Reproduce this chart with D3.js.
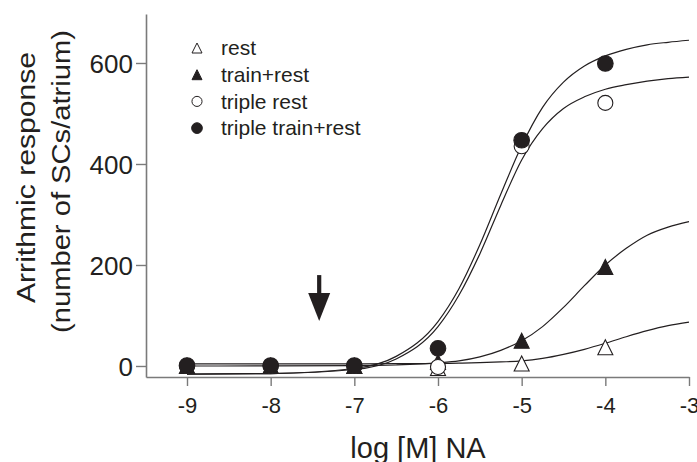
<!DOCTYPE html>
<html>
<head>
<meta charset="utf-8">
<script src="https://cdn.jsdelivr.net/npm/d3@7"></script>
<style>
  body { margin: 0; background: #fff; }
  svg { font-family: "Liberation Sans", Arial, sans-serif; }
</style>
</head>
<body>
<div id="chart"></div>
<script>
// measured points (log dose vs number of SCs/atrium)
var logDose = [-9, -8, -7, -6, -5, -4];
var restVals = [0, 0, 0, -4, 5, 37];
var trainRestVals = [0, 0, 0, 8, 50, 196];
var tripleRestVals = [0, 0, 0, -2, 435, 521];
var tripleTrainRestVals = [1, 1, 1, 35, 447, 599];

// fitted curves
var fitDose = [-9, -8, -7, -6.5, -6, -5.75, -5.5, -5.25, -5, -4.75, -4.5, -4.25, -4, -3.75, -3.5, -3.25, -3];
var restFit = [4, 4, 4, 4.5, 5, 5.5, 6.5, 8, 10, 15, 23, 33, 45, 58, 70, 80, 87];
var trainRestFit = [0, 0.1, 0.6, 2, 6, 10, 18, 31, 50, 78, 116, 159, 200, 233, 259, 275, 286];
var tripleRestFit = [-16, -15, -7, 14, 78, 140, 222, 318, 408, 470, 510, 533, 548, 557, 564, 569, 572];
var tripleTrainRestFit = [-16, -15, -5, 19, 88, 153, 240, 340, 436, 512, 562, 594, 614, 627, 636, 641, 645];

var xTicks = [-9, -8, -7, -6, -5, -4, -3];
var yTicks = [0, 200, 400, 600];
var legendLabels = ["rest", "train+rest", "triple rest", "triple train+rest"];
var arrowDose = -7.42;
var arrowFromTo = [180, 89];

var ink = "#231f20";
var axisGrey = "#7a7a7a";

var width = 697, height = 462;
var svg = d3.select("#chart").append("svg")
  .attr("width", width)
  .attr("height", height);

// scales
var x = d3.scaleLinear().domain([-9.49, -3]).range([146, 689]);
var y = d3.scaleLinear().domain([-21.8, 697]).range([377, 14]);

// triangle centred on its bounding box
var triangle = {
  draw: function (ctx, size) {
    var s = Math.sqrt(size);
    ctx.moveTo(0, -s / 2);
    ctx.lineTo(s / 2, s / 2);
    ctx.lineTo(-s / 2, s / 2);
    ctx.closePath();
  }
};

// plain hyphen for negatives, like the original
var plain = function (d) { return String(d); };

// axes
var xAxis = svg.append("g")
  .attr("transform", "translate(0," + y.range()[0] + ")")
  .call(d3.axisBottom(x).tickValues(xTicks).tickSize(9).tickSizeOuter(0).tickPadding(11).tickFormat(plain));
var yAxis = svg.append("g")
  .attr("transform", "translate(" + x.range()[0] + ",0)")
  .call(d3.axisLeft(y).tickValues(yTicks).tickSize(10).tickSizeOuter(0).tickPadding(3).tickFormat(plain));

[xAxis, yAxis].forEach(function (a) {
  a.select(".domain").attr("stroke", axisGrey).attr("stroke-width", 1.6);
  a.selectAll(".tick line").attr("stroke", axisGrey).attr("stroke-width", 1.4);
  a.selectAll(".tick text").attr("fill", ink).attr("font-family", "Liberation Sans, Arial, sans-serif");
});
xAxis.selectAll(".tick text").attr("font-size", 22);
yAxis.selectAll(".tick text").attr("font-size", 26).attr("dy", "0.36em");

// axis titles
svg.append("text")
  .attr("x", 418).attr("y", 458)
  .attr("text-anchor", "middle")
  .attr("font-size", 29)
  .attr("fill", ink)
  .text("log [M] NA");

svg.append("text")
  .attr("transform", "translate(35,177.5) rotate(-90)")
  .attr("text-anchor", "middle")
  .attr("font-size", 26)
  .attr("textLength", 251)
  .attr("lengthAdjust", "spacingAndGlyphs")
  .attr("fill", ink)
  .text("Arrithmic response");
svg.append("text")
  .attr("transform", "translate(70,181.5) rotate(-90)")
  .attr("text-anchor", "middle")
  .attr("font-size", 26)
  .attr("textLength", 303)
  .attr("lengthAdjust", "spacingAndGlyphs")
  .attr("fill", ink)
  .text("(number of SCs/atrium)");

// fitted curves
var line = d3.line()
  .x(function (d) { return x(d[0]); })
  .y(function (d) { return y(d[1]); })
  .curve(d3.curveMonotoneX);

[restFit, trainRestFit, tripleRestFit, tripleTrainRestFit].forEach(function (vals) {
  svg.append("path")
    .datum(d3.zip(fitDose, vals))
    .attr("d", line)
    .attr("fill", "none")
    .attr("stroke", ink)
    .attr("stroke-width", 1.2);
});

// markers
var series = [
  { vals: restVals, type: triangle, size: 225, fill: "#fff" },
  { vals: trainRestVals, type: triangle, size: 225, fill: ink },
  { vals: tripleRestVals, type: d3.symbolCircle, size: 177, fill: "#fff" },
  { vals: tripleTrainRestVals, type: d3.symbolCircle, size: 191, fill: ink }
];

series.forEach(function (s) {
  svg.append("g").selectAll("path")
    .data(d3.zip(logDose, s.vals))
    .enter()
    .append("path")
    .attr("transform", function (d) { return "translate(" + x(d[0]) + "," + y(d[1]) + ")"; })
    .attr("d", d3.symbol().type(s.type).size(s.size))
    .attr("fill", s.fill)
    .attr("stroke", ink)
    .attr("stroke-width", 1.1);
});

// legend
var legend = svg.append("g");
var legendSizes = [100, 100, 80, 90];
legendLabels.forEach(function (label, i) {
  var ly = 48 + i * 26.7;
  legend.append("path")
    .attr("transform", "translate(197," + ly + ")")
    .attr("d", d3.symbol().type(series[i].type).size(legendSizes[i]))
    .attr("fill", series[i].fill)
    .attr("stroke", ink)
    .attr("stroke-width", 1);
  legend.append("text")
    .attr("x", 221).attr("y", ly)
    .attr("dy", "0.35em")
    .attr("font-size", 21)
    .attr("fill", ink)
    .text(label);
});

// arrow
var ax = x(arrowDose);
svg.append("line")
  .attr("x1", ax).attr("x2", ax)
  .attr("y1", y(arrowFromTo[0])).attr("y2", y(arrowFromTo[1]) - 20)
  .attr("stroke", ink)
  .attr("stroke-width", 4.2);
svg.append("path")
  .attr("d", "M" + (ax - 11) + "," + (y(arrowFromTo[1]) - 28) +
    "L" + (ax + 11) + "," + (y(arrowFromTo[1]) - 28) +
    "L" + ax + "," + y(arrowFromTo[1]) + "Z")
  .attr("fill", ink);
</script>
</body>
</html>
